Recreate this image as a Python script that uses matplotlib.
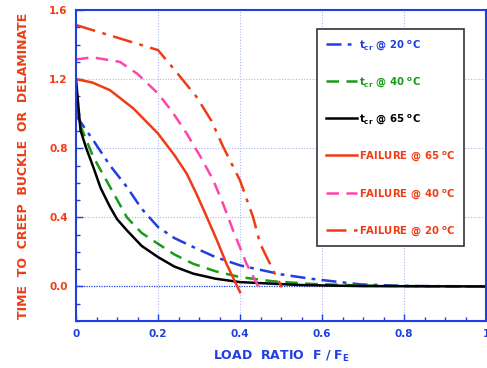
import matplotlib
matplotlib.use("Agg")
import matplotlib.pyplot as plt
from matplotlib.ticker import MultipleLocator, FixedLocator

# curve data
x_cr20 = [0, 0.042, 0.083, 0.124, 0.16, 0.2, 0.24, 0.286, 0.34, 0.4, 0.5, 0.571, 0.693, 0.8, 1.0]
y_cr20 = [0.99, 0.846, 0.70, 0.576, 0.45, 0.344, 0.28, 0.228, 0.17, 0.122, 0.07, 0.045, 0.012, 0.003, 0]

x_cr40 = [0, 0.011, 0.042, 0.083, 0.124, 0.16, 0.2, 0.24, 0.286, 0.34, 0.4, 0.48, 0.571, 0.7, 0.85, 1.0]
y_cr40 = [1.05, 0.93, 0.75, 0.576, 0.40, 0.31, 0.247, 0.185, 0.131, 0.088, 0.054, 0.03, 0.015, 0.005, 0.001, 0]

x_cr65 = [0, 0.011, 0.025, 0.042, 0.06, 0.083, 0.1, 0.124, 0.16, 0.2, 0.24, 0.286, 0.34, 0.4, 0.55, 0.7, 1.0]
y_cr65 = [1.2, 0.904, 0.80, 0.692, 0.57, 0.46, 0.39, 0.325, 0.235, 0.17, 0.115, 0.074, 0.045, 0.025, 0.008, 0.002, 0]

x_f65 = [0, 0.04, 0.083, 0.14, 0.2, 0.24, 0.27, 0.295, 0.319, 0.345, 0.367, 0.4]
y_f65 = [1.2, 1.18, 1.136, 1.03, 0.885, 0.76, 0.653, 0.53, 0.402, 0.26, 0.131, -0.033]

x_f40 = [0, 0.04, 0.107, 0.15, 0.2, 0.235, 0.27, 0.305, 0.335, 0.36, 0.383, 0.416, 0.449]
y_f40 = [1.314, 1.326, 1.30, 1.23, 1.117, 1.01, 0.885, 0.745, 0.614, 0.47, 0.325, 0.131, -0.02]

x_f20 = [0, 0.2, 0.241, 0.294, 0.33, 0.359, 0.4, 0.432, 0.449, 0.481, 0.502]
y_f20 = [1.513, 1.368, 1.252, 1.097, 0.96, 0.808, 0.614, 0.40, 0.248, 0.093, -0.005]

x_ticks = [0, 0.2, 0.4, 0.6, 0.8, 1.0]
x_ticklabels = ["0", "0.2", "0.4", "0.6", "0.8", "1"]
y_ticks = [0.0, 0.4, 0.8, 1.2, 1.6]
y_ticklabels = ["0.0", "0.4", "0.8", "1.2", "1.6"]

BLUE = "#1f3fe0"
GREEN = "#1a9a1a"
RED = "#f03c14"
PINK = "#ff45a8"
GRID = "#aab8f0"

plt.rcParams["font.family"] = ["DejaVu Sans"]
plt.rcParams["font.weight"] = "bold"

fig = plt.figure(figsize=(4.87, 3.68), dpi=100)
ax = fig.add_axes([76 / 487, 1 - 321 / 368, 410 / 487, 311 / 368])

ax.set_xlim(0, 1)
ax.set_ylim(-0.2, 1.6)

# grid
for xv in [0.2, 0.4, 0.6, 0.8]:
    ax.axvline(xv, color=GRID, lw=0.8, ls=(0, (1, 1.5)), zorder=0)
for yv in [0.4, 0.8, 1.2]:
    ax.axhline(yv, color=GRID, lw=0.8, ls=(0, (1, 1.5)), zorder=0)
ax.axhline(0, color=BLUE, lw=0.9, ls=(0, (1, 1)), zorder=0)

lw = 1.8
ax.plot(x_cr20, y_cr20, color=BLUE, lw=lw, ls=(0, (6, 2.5, 1.5, 2.5)),
        label=r"t$_{\rm cr}$ @ 20 $^{\rm o}$C")
ax.plot(x_cr40, y_cr40, color=GREEN, lw=lw, ls=(0, (5, 3)),
        label=r"t$_{\rm cr}$ @ 40 $^{\rm o}$C")
ax.plot(x_cr65, y_cr65, color="black", lw=lw, ls="-",
        label=r"t$_{\rm cr}$ @ 65 $^{\rm o}$C")
ax.plot(x_f65, y_f65, color=RED, lw=lw, ls="-",
        label=r"FAILURE @ 65 $^{\rm o}$C")
ax.plot(x_f40, y_f40, color=PINK, lw=lw, ls=(0, (5, 3)),
        label=r"FAILURE @ 40 $^{\rm o}$C")
ax.plot(x_f20, y_f20, color=RED, lw=lw, ls=(0, (8, 3, 1.5, 3)),
        label=r"FAILURE @ 20 $^{\rm o}$C")

# axes styling
for sp in ax.spines.values():
    sp.set_color(BLUE)
    sp.set_linewidth(1.5)

ax.xaxis.set_major_locator(FixedLocator(x_ticks))
ax.set_xticklabels(x_ticklabels)
ax.xaxis.set_minor_locator(MultipleLocator(0.05))
ax.yaxis.set_major_locator(FixedLocator(y_ticks))
ax.set_yticklabels(y_ticklabels)
ax.yaxis.set_minor_locator(MultipleLocator(0.1))

ax.tick_params(axis="both", which="both", direction="in", color=BLUE)
ax.tick_params(axis="both", which="major", length=5, width=1)
ax.tick_params(axis="both", which="minor", length=3, width=1)
ax.tick_params(axis="x", labelcolor=BLUE, labelsize=7.5, pad=6)
ax.tick_params(axis="y", labelcolor=RED, labelsize=7.5, pad=6)
for t in ax.get_xticklabels() + ax.get_yticklabels():
    t.set_fontweight("bold")

ax.set_xlabel(r"LOAD  RATIO  F / F$_{\rm E}$", color=BLUE, fontsize=9,
              fontweight="bold", labelpad=7)
ax.set_ylabel("TIME  TO  CREEP  BUCKLE  OR  DELAMINATE", color=RED,
              fontsize=9, fontweight="bold", labelpad=14)

leg = ax.legend(loc="upper left", bbox_to_anchor=(317 / 487, 1 - 29 / 368),
                bbox_transform=fig.transFigure, frameon=True, fancybox=False,
                edgecolor="#333333", framealpha=1, fontsize=7.3,
                handlelength=3.1, handletextpad=0.2, labelspacing=2.3,
                borderpad=0.85, borderaxespad=0)
leg.get_frame().set_linewidth(1.2)
text_colors = [BLUE, GREEN, "black", RED, RED, RED]
for txt, c in zip(leg.get_texts(), text_colors):
    txt.set_color(c)
    txt.set_fontweight("bold")

fig.savefig("out.png", dpi=100)
